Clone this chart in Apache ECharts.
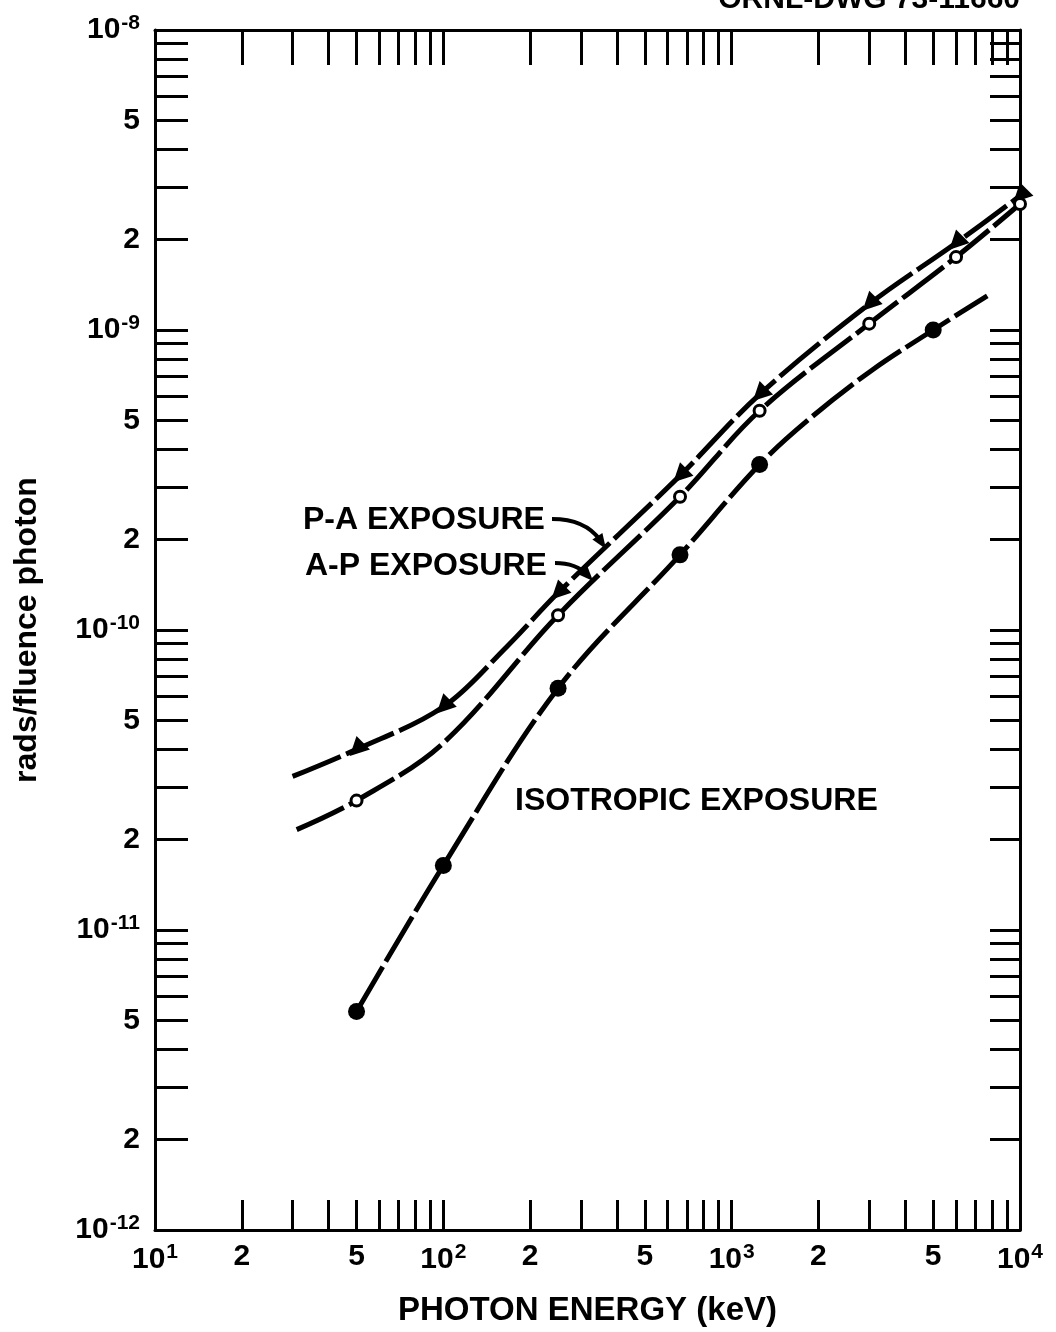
<!DOCTYPE html>
<html><head><meta charset="utf-8">
<script src="https://cdn.jsdelivr.net/npm/echarts@6/dist/echarts.min.js"></script>
<style>html,body{margin:0;padding:0;background:#fff}#c{width:1056px;height:1332px}</style>
</head><body><div id="c"></div>
<script>
// ---- data ----
const paEnergy = [30, 50, 100, 166, 250, 662, 1250, 3000, 6000, 10000];
const paValue  = [3.25e-11, 4.0e-11, 5.55e-11, 8.8e-11, 1.33e-10, 3.27e-10, 6.1e-10, 1.22e-9, 1.95e-9, 2.8e-9];
const paMarkEnergy = [50, 100, 250, 662, 1250, 3000, 6000, 10000];
const paMarkValue  = [4.0e-11, 5.55e-11, 1.33e-10, 3.27e-10, 6.1e-10, 1.22e-9, 1.95e-9, 2.8e-9];

const apEnergy = [31, 50, 100, 250, 662, 1250, 3000, 6000, 10000];
const apValue  = [2.16e-11, 2.7e-11, 4.2e-11, 1.12e-10, 2.78e-10, 5.38e-10, 1.05e-9, 1.75e-9, 2.63e-9];
const apMarkEnergy = [50, 250, 662, 1250, 3000, 6000, 10000];
const apMarkValue  = [2.7e-11, 1.12e-10, 2.78e-10, 5.38e-10, 1.05e-9, 1.75e-9, 2.63e-9];

const isoEnergy = [50, 100, 250, 662, 1250, 1900, 3100, 5000, 7700];
const isoValue  = [5.35e-12, 1.64e-11, 6.4e-11, 1.78e-10, 3.56e-10, 5.14e-10, 7.4e-10, 1.0e-9, 1.3e-9];
const isoMarkEnergy = [50, 100, 250, 662, 1250, 5000];
const isoMarkValue  = [5.35e-12, 1.64e-11, 6.4e-11, 1.78e-10, 3.56e-10, 1.0e-9];

const xLabelValues = [10, 20, 50, 100, 200, 500, 1000, 2000, 5000, 10000];
const yLabelValues = [1e-12, 2e-12, 5e-12, 1e-11, 2e-11, 5e-11, 1e-10, 2e-10, 5e-10, 1e-9, 2e-9, 5e-9, 1e-8];
const xTitle = 'PHOTON ENERGY (keV)';
const yTitle = 'rads/fluence photon';

// tick marks at 1..9 of every decade
function decadeTicks(e0, e1) {
  const t = [];
  for (let e = e0; e < e1; e++) for (let m = 1; m < 10; m++) t.push(parseFloat(m + 'e' + e));
  t.push(parseFloat('1e' + e1));
  return t;
}
const xTicks = decadeTicks(1, 4);
const yTicks = decadeTicks(-12, -8);

const FONT = '"Liberation Sans", Arial, sans-serif';
function fmt(v) {
  const e = Math.floor(Math.log10(v) + 1e-9);
  const m = Math.round(v / Math.pow(10, e));
  if (m === 1) return '{b|10}{s|' + (e < 0 ? '-' + (-e) : e) + '}';
  return '{b|' + m + '}';
}
const rich = {
  b: {fontFamily: FONT, fontWeight: 'bold', fontSize: 30, color: '#000'},
  s: {fontFamily: FONT, fontWeight: 'bold', fontSize: 21, color: '#000', verticalAlign: 'top', padding: [0, 0, 14, 1]}
};
const lineW = 3;
function axisBase(kind, pos, tickLen, showLabel, ticks, labels) {
  return {
    type: 'log', logBase: 10, position: pos,
    min: kind === 'x' ? 10 : 1e-12, max: kind === 'x' ? 10000 : 1e-8,
    axisLine: {show: true, onZero: false, lineStyle: {color: '#000', width: lineW}},
    axisTick: {show: true, inside: true, length: tickLen, customValues: ticks, lineStyle: {color: '#000', width: lineW}},
    minorTick: {show: false},
    splitLine: {show: false},
    axisLabel: {show: showLabel, customValues: labels, formatter: fmt, rich: rich, margin: kind === 'x' ? 12 : 15, color: '#000'}
  };
}

const chart = echarts.init(document.getElementById('c'), null, {renderer: 'canvas'});
const dash = [52, 6];
function lineSeries(name, E, V) {
  return {
    type: 'line', name: name, data: E.map((e, i) => [e, V[i]]),
    showSymbol: false, smooth: 0.35, z: 3,
    lineStyle: {color: '#000', width: 5, type: dash, cap: 'butt'}
  };
}
function markSeries(name, E, V, symbol, size, fill, rot) {
  return {
    type: 'scatter', name: name, data: E.map((e, i) => [e, V[i]]),
    symbol: symbol, symbolSize: size, symbolRotate: rot || 0, z: 5,
    itemStyle: {color: fill, borderColor: '#000', borderWidth: fill === '#fff' ? 3 : 0, opacity: 1}
  };
}

const xMain = axisBase('x', 'bottom', 30, true, xTicks, xLabelValues);
Object.assign(xMain, {name: xTitle, nameLocation: 'middle', nameGap: 64,
  nameTextStyle: {fontFamily: FONT, fontWeight: 'bold', fontSize: 33, color: '#000'}});
const yMain = axisBase('y', 'left', 33, true, yTicks, yLabelValues);
Object.assign(yMain, {name: yTitle, nameLocation: 'middle', nameGap: 112,
  nameTextStyle: {fontFamily: FONT, fontWeight: 'bold', fontSize: 32, color: '#000'}});

chart.setOption({
  backgroundColor: '#fff',
  animation: false,
  grid: {left: 155, right: 36, top: 30, bottom: 100, containLabel: false},
  xAxis: [xMain, axisBase('x', 'top', 35, false, xTicks, xLabelValues)],
  yAxis: [yMain, axisBase('y', 'right', 30, false, yTicks, yLabelValues)],
  series: [
    lineSeries('P-A', paEnergy, paValue),
    lineSeries('A-P', apEnergy, apValue),
    lineSeries('ISO', isoEnergy, isoValue),
    markSeries('P-A pts', paMarkEnergy, paMarkValue, 'triangle', 19, '#000', 135),
    markSeries('A-P pts', apMarkEnergy, apMarkValue, 'circle', 11, '#fff'),
    markSeries('ISO pts', isoMarkEnergy, isoMarkValue, 'circle', 17, '#000')
  ],
  graphic: [
    {type: 'text', x: 1020, y: 0, style: {text: 'ORNL-DWG 73-11660', font: 'bold 30px ' + FONT, fill: '#000', align: 'right', verticalAlign: 'middle'}},
    {type: 'text', x: 303, y: 520, style: {text: 'P-A EXPOSURE', font: 'bold 32px ' + FONT, fill: '#000', verticalAlign: 'middle'}},
    {type: 'text', x: 305, y: 566, style: {text: 'A-P EXPOSURE', font: 'bold 32px ' + FONT, fill: '#000', verticalAlign: 'middle'}},
    {type: 'text', x: 515, y: 801, style: {text: 'ISOTROPIC EXPOSURE', font: 'bold 32px ' + FONT, fill: '#000', verticalAlign: 'middle'}},
    {type: 'bezierCurve', shape: {x1: 552, y1: 519, cpx1: 585, cpy1: 519, x2: 600, y2: 540}, style: {stroke: '#000', lineWidth: 4, fill: null}},
    {type: 'polygon', shape: {points: [[606, 549], [592.4, 539.6], [602.4, 533.0]]}, style: {fill: '#000'}},
    {type: 'bezierCurve', shape: {x1: 555, y1: 563, cpx1: 576, cpy1: 563, x2: 588, y2: 575}, style: {stroke: '#000', lineWidth: 4, fill: null}},
    {type: 'polygon', shape: {points: [[593, 581], [578.7, 574.6], [587.5, 566.4]]}, style: {fill: '#000'}}
  ]
});
</script></body></html>
